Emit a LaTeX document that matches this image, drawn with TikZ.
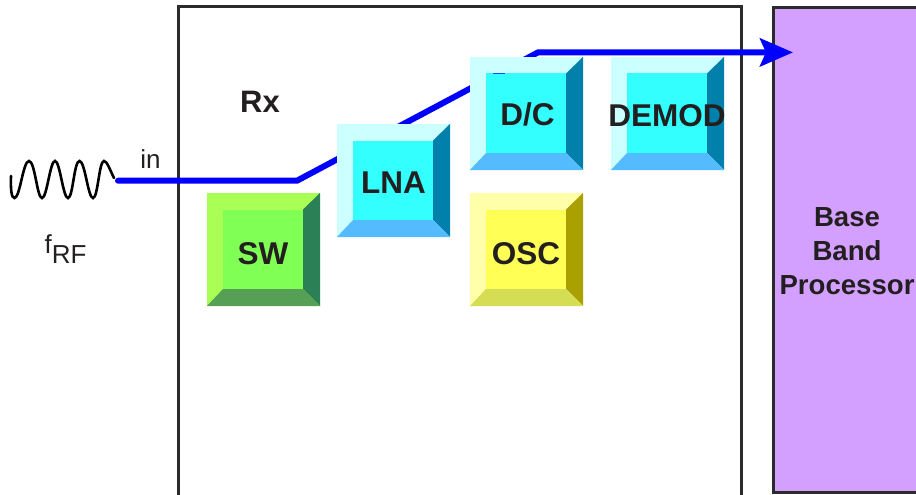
\documentclass[tikz,border=0pt]{standalone}
\usepackage{fontspec}
\setmainfont{Liberation Sans}
\usetikzlibrary{arrows.meta}
\definecolor{ink}{HTML}{231F20}
\definecolor{framec}{HTML}{2B2B2B}
\definecolor{wire}{HTML}{0000FF}
\definecolor{purp}{HTML}{D4A0FF}
\definecolor{cyC}{HTML}{33FFFF}\definecolor{cyL}{HTML}{CCFFFF}\definecolor{cyR}{HTML}{0080AA}\definecolor{cyB}{HTML}{55BBFF}
\definecolor{grC}{HTML}{80FF55}\definecolor{grL}{HTML}{AAFF55}\definecolor{grR}{HTML}{2B8055}\definecolor{grB}{HTML}{55A055}
\definecolor{yeC}{HTML}{FFFF55}\definecolor{yeL}{HTML}{FFFFAA}\definecolor{yeR}{HTML}{AAA000}\definecolor{yeB}{HTML}{D5DD55}
\newcommand{\bevelbox}[7]{% name, left, top, colour prefix, text, label x, label y
  \begin{scope}[shift={(#2,#3)}]
    \fill[#4L] (0,0) rectangle (113,113);
    \fill[#4R] (113,0) -- (113,113) -- (96,96) -- (96,16.5) -- cycle;
    \fill[#4B] (0,113) -- (113,113) -- (96,96) -- (16,96) -- cycle;
    \node[bevelface,fill=#4C] (#1) at (56,56.25) {};
    \node[boldlabel] at (#6,#7) {#5};
  \end{scope}}
\tikzset{
  bevelface/.style={rectangle,minimum width=80pt,minimum height=79.5pt,inner sep=0pt,outer sep=0pt},
  boldlabel/.style={font=\fontsize{31.5}{34}\selectfont\bfseries,text=ink,inner sep=0pt},
  thinlabel/.style={font=\fontsize{26}{30}\selectfont,text=ink,inner sep=0pt},
  frame/.style={draw=framec,line width=3pt},
  signal/.style={draw=wire,line width=6pt,line cap=round,line join=miter,
    -{Stealth[length=33pt,width=28pt,inset=6pt]}},
}
\begin{document}
\begin{tikzpicture}[x=1pt,y=-1pt]
\useasboundingbox (0,0) rectangle (916,495);
\clip (0,0) rectangle (916,495);
\fill[white] (0,0) rectangle (916,495);
% frames
\draw[frame] (178,530) -- (178,6.5) -- (741,6.5) -- (741,530);
\draw[frame,fill=purp] (773,492) -- (773,7.5) -- (960,7.5) -- (960,492) -- cycle;
% labels
\node[boldlabel,font=\fontsize{31}{34}\selectfont\bfseries] (rx) at (260,102) {Rx};
\node[thinlabel] (inlabel) at (150.5,159) {in};
\node[thinlabel] (frf) at (65.5,249) {f\raisebox{-10.5pt}{RF}};
\node[align=center,font=\fontsize{27.6}{34}\selectfont\bfseries,text=ink,inner sep=0pt] (bb) at (847,251) {Base\\Band\\Processor};
% source wave
\draw[black,line width=2.6pt,line cap=round] (11,176)
  .. controls (10.5,190) and (11.5,198) .. (14.5,198)
  .. controls (20,198) and (23,161) .. (29,161)
  .. controls (35,161) and (37,198) .. (42,198)
  .. controls (47,198) and (50,161) .. (55,161)
  .. controls (60,161) and (63,198) .. (68,198)
  .. controls (73,198) and (74,161) .. (79.5,161)
  .. controls (85,161) and (88,198) .. (93,198)
  .. controls (98,198) and (99,161) .. (104,161)
  .. controls (107,161) and (110,170) .. (114,178);
% signal path
\coordinate (srcend) at (118,180.7);
\coordinate (bendA) at (297,180.7);
\coordinate (bendB) at (538,52.4);
\coordinate (bbin) at (793,52.4);
\draw[signal] (srcend) -- (bendA) -- (bendB) -- (bbin);
% blocks
\bevelbox{sw}{207}{193}{gr}{SW}{56}{60.5}
\bevelbox{lna}{337}{124}{cy}{LNA}{56.5}{59}
\bevelbox{dc}{470}{57}{cy}{D/C}{57.5}{57}
\bevelbox{demod}{611}{57}{cy}{DEMOD}{56}{58.5}
\bevelbox{osc}{470}{193}{ye}{OSC}{56}{60.5}
\fill[wire,opacity=0.7] (493,72.6) -- (505,72.6) -- (505,74) -- (493,74) -- cycle;
\end{tikzpicture}
\end{document}
